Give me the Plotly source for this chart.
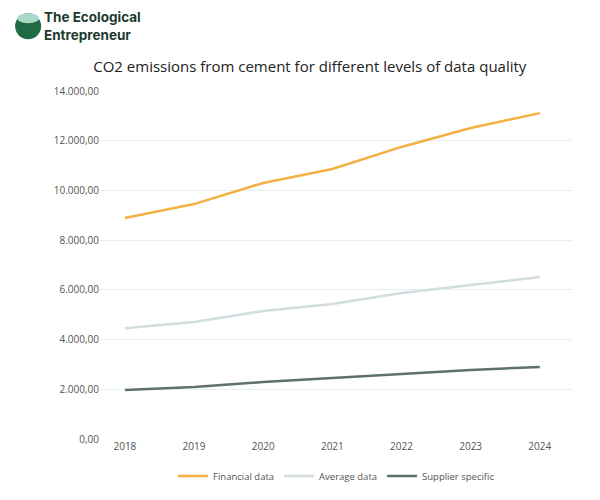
import plotly.graph_objects as go

# Data
years = [2018, 2019, 2020, 2021, 2022, 2023, 2024]
financial = [8890, 9450, 10300, 10860, 11750, 12510, 13110]
average = [4460, 4710, 5150, 5430, 5870, 6200, 6520]
supplier = [1970, 2090, 2290, 2450, 2610, 2780, 2900]

fig = go.Figure()
fig.add_trace(go.Scatter(x=years, y=financial, name="Financial data", mode="lines",
                         line=dict(color="#F4B042", width=2.5)))
fig.add_trace(go.Scatter(x=years, y=average, name="Average data", mode="lines",
                         line=dict(color="#D3DCE0", width=2.5)))
fig.add_trace(go.Scatter(x=years, y=supplier, name="Supplier specific", mode="lines",
                         line=dict(color="#5E7268", width=2.5)))

fig.update_layout(
    width=600, height=500,
    margin=dict(l=92, r=35, t=83, b=69),
    paper_bgcolor="white", plot_bgcolor="white",
    separators=",.",
    font=dict(family="Open Sans", color="#404040", size=10),
    title=dict(text="CO2 emissions from cement for different levels of data quality",
               x=0.503, xanchor="center", y=0.882, yanchor="middle",
               font=dict(size=15, color="#222222")),
    legend=dict(orientation="h", x=0.5, xanchor="center", y=-0.106, yanchor="middle",
                font=dict(size=9.5, color="#555555")),
    showlegend=True,
)
fig.update_xaxes(tickmode="array", tickvals=years, range=[2017.64, 2024.48],
                 showgrid=False, showline=False, zeroline=False, ticks="",
                 tickfont=dict(size=10, color="#555555"))
fig.update_yaxes(range=[0, 14000], dtick=2000, tickformat=",.2f",
                 gridcolor="#E2F2EF", gridwidth=1, zeroline=False, showline=False,
                 tickfont=dict(size=10, color="#555555"))

# Logo: layered green circle plus brand text
fig.add_shape(type="circle", xref="paper", yref="paper", xsizemode="pixel", ysizemode="pixel",
              xanchor=-0.152, yanchor=1.186, x0=-13, x1=13, y0=-13, y1=13,
              fillcolor="#1F6B45", line=dict(width=0))
fig.add_shape(type="circle", xref="paper", yref="paper", xsizemode="pixel", ysizemode="pixel",
              xanchor=-0.152, yanchor=1.186, x0=-11, x1=11, y0=3, y1=13,
              fillcolor="#A8D8C8", line=dict(width=0))
fig.add_annotation(text="<b>The Ecological<br>Entrepreneur</b>", xref="paper", yref="paper",
                   x=-0.123, y=1.186, xanchor="left", yanchor="middle", showarrow=False, align="left",
                   font=dict(size=13.5, color="#1E3A30", family="Inter"))

fig.write_html("out.html")
